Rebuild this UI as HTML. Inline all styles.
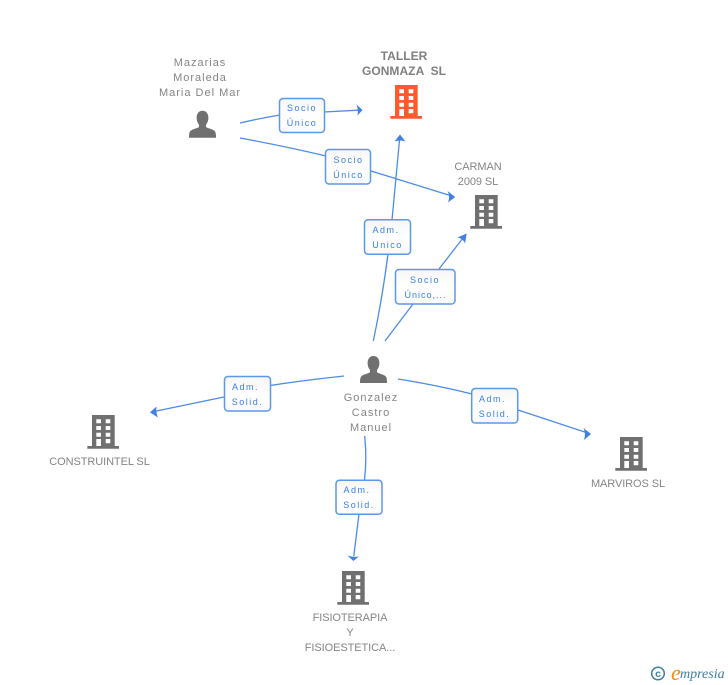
<!DOCTYPE html>
<html>
<head>
<meta charset="utf-8">
<style>
html,body{margin:0;padding:0;background:#fff;width:728px;height:685px;overflow:hidden}
svg{display:block}
text{font-family:"Liberation Sans",sans-serif}
.n{font-size:11px;fill:#858585;text-anchor:middle}
.c{letter-spacing:-.08px}
.p{letter-spacing:1px}
.b{font-size:12px;font-weight:bold;fill:#7f7f7f;text-anchor:middle;letter-spacing:.05px}
.l{font-size:9px;fill:#3a7fe6;text-anchor:middle;letter-spacing:1.5px}
.e{fill:none;stroke:#4d8ce4;stroke-width:1.3}
.a{fill:#3f80e0}
.x{fill:url(#g);stroke:#5a98ea;stroke-width:1.5}
</style>
</head>
<body>
<svg width="728" height="685" viewBox="0 0 728 685" xmlns="http://www.w3.org/2000/svg">
<defs>
<linearGradient id="g" x1="0" y1="0" x2="0" y2="1"><stop offset="0" stop-color="#f6f6f6"/><stop offset=".5" stop-color="#fff"/><stop offset="1" stop-color="#fafafa"/></linearGradient>
<g id="bld">
<path fill-rule="evenodd" d="M395 85h22.700v31H422v2.700H390.300V116H395zM399.300 89.300v4h4.700v-4zM408.700 89.300v4h4.600v-4zM399.300 96v4h4.700v-4zM408.700 96v4h4.600v-4zM399.300 102.700v4h4.700v-4zM408.700 102.700v4h4.600v-4zM399.300 109v7h4.700v-7zM408.700 109v4.300h4.600V109z"/>
</g>
<g id="per">
<path d="M202.500 110.700c3.700 0 5.900 3 5.900 7 0 3-1 5.400-2.400 7v2.300c2.400 1.700 7.600 2.100 9.200 4.700.7 1.400.8 4 .8 6H189c0-2 .1-4.600.8-6 1.600-2.600 6.800-3 9.200-4.700v-2.300c-1.400-1.600-2.400-4-2.400-7 0-4 2.200-7 5.900-7z"/>
</g>
</defs>

<path class="e" d="M240 123Q259 118.500 280 115"/>
<path class="e" d="M324 112L358 110.200"/>
<path class="a" d="M362.500 110L356.500 104.500Q358.500 110 357.500 115.500z"/>

<path class="e" d="M240 138Q284 146 326 156"/>
<path class="e" d="M371 171L451 195.700"/>
<path class="a" d="M455.200 197L447.500 191Q450.500 196.500 448 202.500z"/>

<path class="e" d="M373.300 341Q382 300 388 254"/>
<path class="e" d="M392 220L399.500 140"/>
<path class="a" d="M400 134.500L394.500 141.500Q400 139.500 405.500 141.500z"/>

<path class="e" d="M385 341L413 304"/>
<path class="e" d="M439 269L463 238"/>
<path class="a" d="M466.700 233.500L457.500 237.500Q463 238.500 465 243.500z"/>

<path class="e" d="M344 376Q306 380 270 385.500"/>
<path class="e" d="M224 397L154 411.500"/>
<path class="a" d="M150 412.400L156.500 406.500Q155.500 412 158 417.500z"/>

<path class="e" d="M398 379Q436 385 472 394"/>
<path class="e" d="M518 410L587 432.700"/>
<path class="a" d="M591 434L583.500 428Q586 433.500 584 440z"/>

<path class="e" d="M364.700 436Q367 458 364.500 480"/>
<path class="e" d="M359 514L353.800 556"/>
<path class="a" d="M353.300 561L347.500 555.500Q353.500 557.500 359 556.500z"/>

<rect class="x" x="279.500" y="98.500" width="45" height="34" rx="3.500"/>
<text class="l" x="302" y="111">Socio</text><text class="l" x="302" y="126">Único</text>
<rect class="x" x="325.500" y="149.500" width="45" height="34.500" rx="3.500"/>
<text class="l" x="348.500" y="163">Socio</text><text class="l" x="348.500" y="178">Único</text>
<rect class="x" x="364.500" y="219.700" width="46" height="34.500" rx="3.500"/>
<text class="l" x="386" y="233">Adm.</text><text class="l" x="387.500" y="248">Unico</text>
<rect class="x" x="395.500" y="269.500" width="59.500" height="34.500" rx="3.500"/>
<text class="l" x="425" y="283">Socio</text><text class="l" x="425.500" y="298" style="letter-spacing:1px">Único,...</text>
<rect class="x" x="224.500" y="376.500" width="46" height="34.500" rx="3.500"/>
<text class="l" x="245.500" y="390">Adm.</text><text class="l" x="247.500" y="405">Solid.</text>
<rect class="x" x="471.700" y="388.500" width="46" height="34.500" rx="3.500"/>
<text class="l" x="492.500" y="402">Adm.</text><text class="l" x="494.500" y="417">Solid.</text>
<rect class="x" x="336" y="480.300" width="46" height="34" rx="3.500"/>
<text class="l" x="357" y="493">Adm.</text><text class="l" x="359" y="508">Solid.</text>

<use href="#bld" fill="#ff5a2b"/>
<use href="#bld" fill="#707070" transform="translate(80 110)"/>
<use href="#bld" fill="#707070" transform="translate(-303 330)"/>
<use href="#bld" fill="#707070" transform="translate(225 352)"/>
<use href="#bld" fill="#707070" transform="translate(-53 486)"/>
<use href="#per" fill="#707070"/>
<use href="#per" fill="#707070" transform="translate(171 245.300)"/>

<text class="n p" x="200" y="66">Mazarias</text>
<text class="n p" x="200" y="81">Moraleda</text>
<text class="n p" x="200" y="96">Maria Del Mar</text>
<text class="b" x="404" y="60">TALLER</text>
<text class="b" x="404" y="75" xml:space="preserve">GONMAZA  SL</text>
<text class="n c" x="478" y="170">CARMAN</text>
<text class="n c" x="478" y="185">2009 SL</text>
<text class="n p" x="371" y="401">Gonzalez</text>
<text class="n p" x="371" y="416">Castro</text>
<text class="n p" x="371" y="431">Manuel</text>
<text class="n c" x="99.500" y="465">CONSTRUINTEL SL</text>
<text class="n c" x="628" y="487">MARVIROS SL</text>
<text class="n c" x="350" y="621">FISIOTERAPIA</text>
<text class="n c" x="350" y="636">Y</text>
<text class="n c" x="350" y="651">FISIOESTETICA...</text>

<circle cx="658" cy="673.500" r="6.300" fill="none" stroke="#3f7f9f" stroke-width="1.500"/>
<text x="658" y="677" font-size="10.500" fill="#3f7f9f" text-anchor="middle" font-weight="bold">c</text>
<text x="671" y="680" font-size="22" fill="#f08a1d" style="font-family:'Liberation Serif',serif;font-style:italic">e</text>
<text x="680" y="678" font-size="14" fill="#3f7f9f" style="font-family:'Liberation Serif',serif;font-style:italic">mpresia</text>
</svg>
</body>
</html>
